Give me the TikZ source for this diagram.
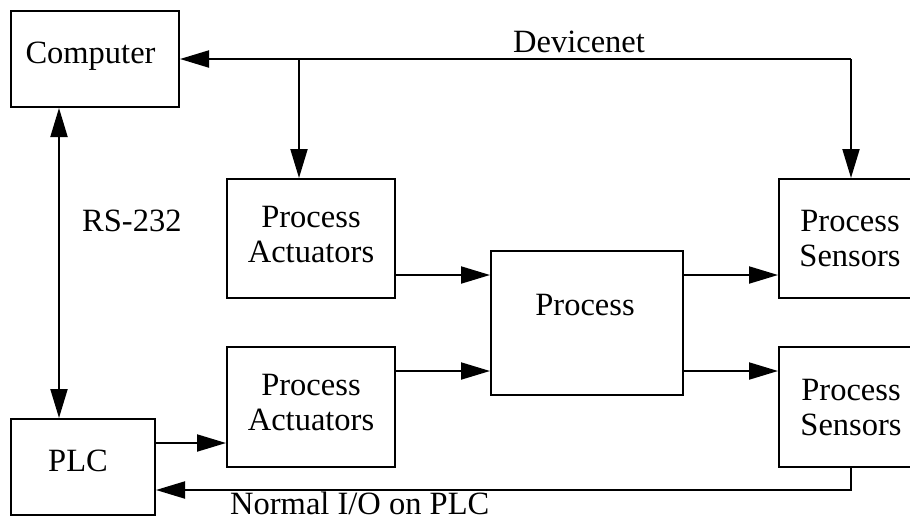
\documentclass[tikz,border=0pt]{standalone}
\usepackage{fontspec}
\setmainfont{Liberation Serif}
\usetikzlibrary{arrows.meta}
\begin{document}
\begin{tikzpicture}[x=1pt,y=-1pt,
  box/.style={draw, line width=2pt, inner sep=0pt},
  txt/.style={font=\fontsize{32.5}{35}\selectfont, inner sep=0pt, align=center},
  conn/.style={line width=2pt, -{Triangle[length=29pt,width=17pt]}},
  conntwo/.style={line width=2pt, {Triangle[length=29pt,width=17pt]}-{Triangle[length=29pt,width=17pt]}}]
\useasboundingbox (0,0) rectangle (910,523);
\clip (0,0) rectangle (910,523);
% boxes
\node[box, minimum width=168pt, minimum height=96pt] (comp) at (95,59) {};
\node[box, minimum width=144pt, minimum height=96pt] (plc) at (83,467) {};
\node[box, minimum width=168pt, minimum height=119pt] (act1) at (311,238.5) {};
\node[box, minimum width=168pt, minimum height=120pt] (act2) at (311,407) {};
\node[box, minimum width=192pt, minimum height=144pt] (proc) at (587,323) {};
\node[box, minimum width=136pt, minimum height=119pt] (sen1) at (847,238.5) {};
\node[box, minimum width=136pt, minimum height=120pt] (sen2) at (847,407) {};
% texts
\node[txt, anchor=base] (tcomp) at (90.5,63.5) {Computer};
\node[txt, anchor=base] (tplc) at (78,471) {PLC};
\node[txt] (tact1) at (311,234.5) {Process\\Actuators};
\node[txt] (tact2) at (311,403) {Process\\Actuators};
\node[txt, anchor=base] (tproc) at (585,315) {Process};
\node[txt] (tsen1) at (850,238.5) {Process\\Sensors};
\node[txt] (tsen2) at (851,407.5) {Process\\Sensors};
\node[txt, anchor=base] (ldev) at (579,52) {Devicenet};
\node[txt, anchor=base west] (lio) at (230,514) {Normal I/O on PLC};
\node[txt, anchor=base west] (lrs) at (82,231) {RS-232};
% coordinates
\coordinate (dnR) at (851,59);
\coordinate (dnB) at (299,59);
\coordinate (rs) at (59,0);
\coordinate (r1) at (0,275);
\coordinate (r2) at (0,371);
\coordinate (r3) at (0,443);
\coordinate (io) at (851,490);
% connectors
\draw[conn] (dnR) -- (comp.east);
\draw[conn] (dnR) -- (dnR |- sen1.north);
\draw[conn] (dnB) -- (dnB |- act1.north);
\draw[conntwo] (rs |- comp.south) -- (rs |- plc.north);
\draw[conn] (r1 -| act1.east) -- (r1 -| proc.west);
\draw[conn] (r2 -| act2.east) -- (r2 -| proc.west);
\draw[conn] (r1 -| proc.east) -- (r1 -| sen1.west);
\draw[conn] (r2 -| proc.east) -- (r2 -| sen2.west);
\draw[conn] (r3 -| plc.east) -- (r3 -| act2.west);
\draw[conn] (io |- sen2.south) -- (io) -- (io -| plc.east);
\end{tikzpicture}
\end{document}
